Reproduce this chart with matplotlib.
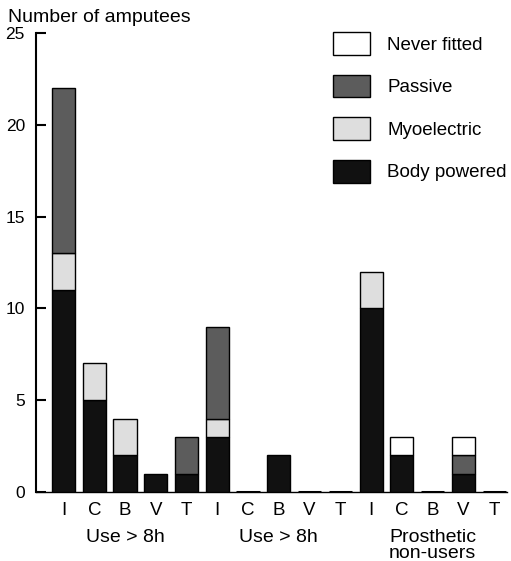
import matplotlib
matplotlib.use('Agg')
import matplotlib.pyplot as plt
import numpy as np
from matplotlib.patches import Patch

plt.rcParams['font.family'] = ['Liberation Sans', 'DejaVu Sans']

# 数据
categories = ['I', 'C', 'B', 'V', 'T'] * 3
group_labels = ['Use > 8h', 'Use > 8h', 'Prosthetic\nnon-users']
body_powered = [11, 5, 2, 1, 1, 3, 0, 2, 0, 0, 10, 2, 0, 1, 0]
myoelectric = [2, 2, 2, 0, 0, 1, 0, 0, 0, 0, 2, 0, 0, 0, 0]
passive = [9, 0, 0, 0, 2, 5, 0, 0, 0, 0, 0, 0, 0, 1, 0]
never_fitted = [0, 0, 0, 0, 0, 0, 0, 0, 0, 0, 0, 1, 0, 1, 0]

series = [
    ('Body powered', body_powered, '#111111'),
    ('Myoelectric', myoelectric, '#dedede'),
    ('Passive', passive, '#5c5c5c'),
    ('Never fitted', never_fitted, 'white'),
]

fig = plt.figure(figsize=(5.11, 5.61), dpi=100)
ax = fig.add_axes([36/511, 1 - 492/561, (507 - 36)/511, (492 - 33)/561])

x = np.arange(len(categories))
width = 0.75
bottom = np.zeros(len(categories))
for name, vals, col in series:
    vals = np.array(vals, dtype=float)
    mask = vals > 0
    ax.bar(x[mask], vals[mask], width, bottom=bottom[mask], color=col,
           edgecolor='black', linewidth=1.0, zorder=3)
    bottom += vals

# 零值柱：画成粗短线
total = bottom
zero = total == 0
ax.bar(x[zero], total[zero], width, color='black', edgecolor='black',
       linewidth=2.2, zorder=3)

ax.set_xlim(-0.894, 14.42)
ax.set_ylim(0, 25)
ax.set_yticks([0, 5, 10, 15, 20, 25])
ax.set_xticks(x)
ax.set_xticklabels(categories, fontsize=13.5)
ax.tick_params(axis='x', length=0, pad=7)
ax.tick_params(axis='y', direction='in', length=7, width=1.5, labelsize=12.5, pad=8)

for side in ['top', 'right']:
    ax.spines[side].set_visible(False)
ax.spines['left'].set_linewidth(1.5)
ax.spines['bottom'].set_linewidth(1.0)

# 分组标签
for i, lab in enumerate(group_labels):
    cx = x[i*5 + 2]
    ax.annotate(lab, xy=(cx, 0), xycoords=('data', 'axes fraction'),
                xytext=(0, -27), textcoords='offset points',
                ha='center', va='top', fontsize=14, linespacing=0.85)

fig.text(8/511, 1 - 17/561, 'Number of amputees', fontsize=14, va='center', ha='left')

handles = [Patch(facecolor=col, edgecolor='black', linewidth=1.0, label=name)
           for name, vals, col in series[::-1]]
ax.legend(handles=handles, loc='upper left', bbox_to_anchor=(333/511, 1 - 32/561),
          bbox_transform=fig.transFigure, frameon=False, fontsize=13.5,
          handlelength=1.95, handleheight=1.5, handletextpad=0.95,
          labelspacing=1.05, borderpad=0, borderaxespad=0)

fig.savefig('out.png', dpi=100)
